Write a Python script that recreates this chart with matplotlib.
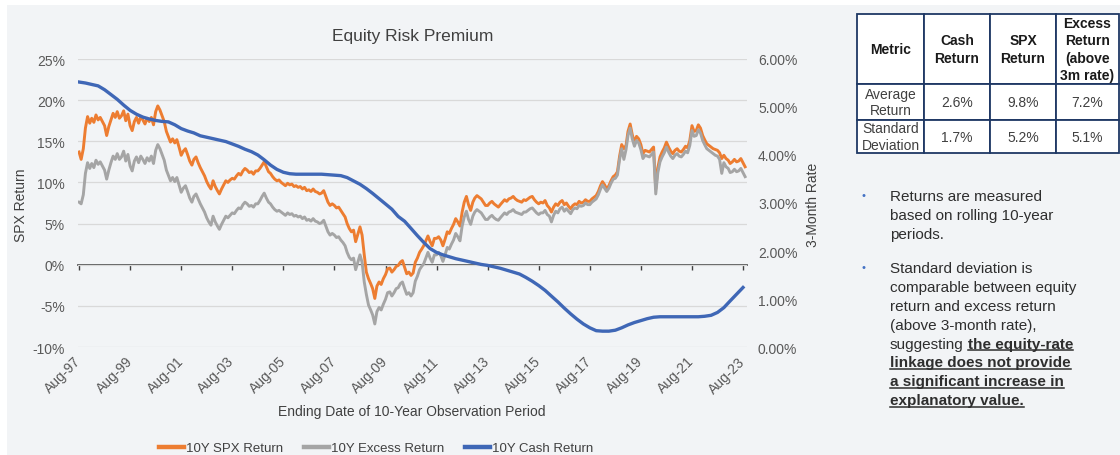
import matplotlib
matplotlib.use("Agg")
import matplotlib.pyplot as plt
import matplotlib.dates as mdates
import pandas as pd
from matplotlib.lines import Line2D
from matplotlib.patches import Rectangle
from matplotlib.ticker import FuncFormatter

plt.rcParams["font.family"] = ["Liberation Sans", "DejaVu Sans"]

W, H, DPI = 1120, 456, 100

# ---------------- data (monthly, Aug-97 .. Sep-23) ----------------
spx_return = [
    13.7, 12.8, 14.1, 16.6, 18.0, 17.2, 17.8, 17.3, 18.2, 17.6, 17.9, 17.4,
    16.9, 15.7, 16.8, 17.6, 18.4, 17.9, 18.6, 17.8, 18.1, 18.7, 17.5, 18.3,
    16.9, 16.3, 17.4, 17.9, 17.2, 18.0, 17.6, 17.1, 17.8, 17.4, 17.9, 17.0,
    18.6, 19.3, 18.8, 18.1, 17.4, 16.2, 15.6, 14.9, 15.3, 14.8, 15.2, 14.3,
    13.3, 13.8, 14.1, 13.4, 12.6, 12.1, 12.8, 13.1, 12.4, 11.8, 11.3, 10.8,
    10.1, 9.6, 9.2, 10.2, 9.5, 9.0, 8.6, 9.2, 9.7, 10.2, 10.0, 10.3,
    10.5, 10.4, 10.8, 11.1, 10.9, 11.4, 11.7, 11.5, 11.2, 11.3, 11.0, 11.4,
    11.4, 11.7, 12.1, 12.5, 11.9, 11.3, 11.1, 10.7, 10.4, 10.2, 10.3, 10.0,
    9.8, 9.6, 9.9, 9.7, 9.8, 9.5, 9.6, 9.4, 9.5, 9.2, 9.4, 9.0,
    9.1, 8.9, 9.2, 8.9, 8.8, 8.6, 8.7, 9.0, 8.3, 7.6, 7.2, 7.4,
    7.2, 6.9, 7.0, 6.6, 6.2, 5.8, 5.0, 4.4, 4.0, 4.2, 2.8, 3.7,
    4.6, 3.6, 1.2, -0.9, -1.7, -2.3, -2.9, -4.1, -2.6, -2.1, -2.4, -1.7,
    -1.2, -0.5, -0.4, -0.9, -0.6, -0.2, -0.1, 0.3, 0.5, -0.3, -1.1, -0.9,
    -1.3, -1.0, 0.3, 0.8, 1.5, 1.9, 2.3, 2.9, 3.5, 2.8, 2.3, 3.2,
    3.2, 3.4, 3.0, 2.3, 3.1, 4.0, 3.8, 4.4, 4.9, 5.6, 5.2, 4.7,
    6.4, 7.6, 8.3, 7.3, 6.6, 7.6, 8.1, 8.4, 8.2, 8.0, 7.6, 7.2,
    7.2, 7.5, 7.7, 7.4, 7.2, 7.0, 7.3, 7.6, 7.9, 7.7, 8.0, 8.1,
    8.3, 8.0, 7.8, 7.7, 7.6, 7.9, 7.8, 8.0, 8.2, 8.3, 7.9, 7.6,
    7.4, 7.6, 7.5, 7.8, 7.2, 6.9, 6.4, 7.0, 7.4, 7.2, 7.6, 7.8,
    7.3, 7.5, 7.1, 6.8, 7.2, 7.4, 7.3, 7.7, 7.5, 7.6, 7.9, 7.7,
    7.7, 8.0, 8.2, 8.4, 8.9, 9.6, 10.1, 9.7, 9.2, 9.6, 10.2, 10.7,
    10.9, 11.3, 13.2, 14.6, 14.1, 14.5, 16.2, 17.1, 15.8, 14.9, 15.6, 15.3,
    14.6, 13.5, 13.9, 13.8, 13.7, 14.0, 14.3, 9.2, 11.8, 13.1, 13.7, 14.2,
    14.9, 14.3, 13.8, 13.5, 13.9, 14.1, 13.8, 13.7, 14.0, 14.4, 14.2, 15.1,
    16.9, 16.2, 16.3, 17.0, 16.6, 15.7, 15.2, 14.7, 14.5, 14.3, 14.1, 14.0,
    13.9, 13.6, 12.9, 13.3, 12.9, 12.7, 12.3, 12.5, 12.8, 12.5, 12.6, 12.9,
    12.4, 11.9,
]

excess_return = [
    7.6, 7.4, 8.5, 11.1, 12.4, 11.7, 12.3, 11.8, 12.7, 12.2, 12.5, 12.0,
    11.5, 10.4, 11.5, 12.4, 13.2, 12.8, 13.5, 12.8, 13.1, 13.8, 12.6, 13.4,
    12.0, 11.4, 12.6, 13.1, 12.4, 13.2, 12.8, 12.3, 13.0, 12.6, 13.2, 12.3,
    13.9, 14.6, 14.1, 13.4, 12.7, 11.5, 10.9, 10.2, 10.6, 10.1, 10.6, 9.7,
    8.8, 9.3, 9.6, 8.9, 8.1, 7.6, 8.3, 8.6, 8.0, 7.4, 6.9, 6.4,
    5.7, 5.2, 4.8, 5.9, 5.2, 4.7, 4.3, 4.9, 5.4, 5.9, 5.7, 6.0,
    6.3, 6.2, 6.6, 6.9, 6.8, 7.3, 7.6, 7.4, 7.1, 7.2, 7.0, 7.4,
    7.4, 7.8, 8.3, 8.7, 8.1, 7.6, 7.4, 7.0, 6.7, 6.5, 6.6, 6.4,
    6.2, 6.0, 6.3, 6.1, 6.2, 5.9, 6.0, 5.8, 5.9, 5.6, 5.8, 5.4,
    5.5, 5.3, 5.6, 5.3, 5.2, 5.0, 5.1, 5.4, 4.7, 4.0, 3.6, 3.8,
    3.6, 3.3, 3.4, 3.0, 2.7, 2.3, 1.5, 0.9, 0.6, 0.8, -0.6, 0.3,
    1.2, 0.3, -2.1, -3.6, -4.9, -5.5, -6.1, -7.2, -5.7, -5.2, -5.5, -4.8,
    -4.2, -3.4, -3.3, -3.8, -3.4, -2.9, -2.8, -2.3, -2.1, -2.9, -3.6, -3.4,
    -3.8, -3.4, -2.0, -1.4, -0.6, -0.2, 0.1, 0.8, 1.5, 0.8, 0.3, 1.2,
    1.2, 1.5, 1.1, 0.4, 1.2, 2.1, 1.9, 2.5, 3.0, 3.8, 3.4, 2.9,
    4.7, 5.8, 6.5, 5.5, 4.9, 5.9, 6.4, 6.7, 6.5, 6.3, 5.9, 5.5,
    5.5, 5.8, 6.0, 5.7, 5.5, 5.4, 5.7, 6.0, 6.3, 6.1, 6.4, 6.5,
    6.7, 6.4, 6.3, 6.2, 6.1, 6.4, 6.4, 6.6, 6.8, 6.9, 6.6, 6.3,
    6.1, 6.3, 6.3, 6.6, 6.1, 5.9, 5.2, 6.0, 6.5, 6.3, 6.8, 7.0,
    6.5, 6.8, 6.5, 6.2, 6.7, 6.9, 6.8, 7.2, 7.1, 7.2, 7.5, 7.3,
    7.3, 7.6, 7.8, 8.0, 8.5, 9.2, 9.7, 9.3, 8.9, 9.3, 9.9, 10.4,
    10.5, 10.9, 12.8, 14.1, 12.8, 14.0, 15.7, 16.6, 15.3, 14.4, 15.1, 14.8,
    14.0, 12.9, 13.3, 13.2, 13.1, 13.4, 13.7, 8.6, 11.2, 12.5, 13.1, 13.6,
    14.3, 13.7, 13.2, 12.9, 13.3, 13.5, 13.2, 13.1, 13.4, 13.8, 13.6, 14.5,
    16.3, 15.6, 15.7, 16.4, 16.0, 15.1, 14.6, 14.1, 13.9, 13.7, 13.5, 13.3,
    13.2, 12.8, 11.1, 12.4, 11.9, 11.7, 11.2, 11.3, 11.6, 11.3, 11.4, 11.7,
    11.2, 10.7,
]

# quarterly 10Y average 3-month rate (right axis)
cash_return = [
    5.52, 5.50, 5.47, 5.44, 5.36, 5.26, 5.16, 5.04, 4.93, 4.85, 4.79, 4.75,
    4.72, 4.70, 4.69, 4.63, 4.55, 4.50, 4.46, 4.40, 4.37, 4.34, 4.31, 4.28,
    4.23, 4.18, 4.12, 4.07, 4.00, 3.90, 3.79, 3.70, 3.64, 3.61, 3.60, 3.60,
    3.60, 3.60, 3.60, 3.59, 3.58, 3.57, 3.53, 3.46, 3.39, 3.30, 3.20, 3.09,
    2.98, 2.87, 2.72, 2.62, 2.47, 2.32, 2.18, 2.05, 1.97, 1.92, 1.88, 1.84,
    1.81, 1.78, 1.75, 1.72, 1.70, 1.67, 1.64, 1.60, 1.56, 1.52, 1.45, 1.37,
    1.28, 1.18, 1.06, 0.94, 0.81, 0.69, 0.58, 0.48, 0.40, 0.34, 0.33, 0.33,
    0.35, 0.40, 0.46, 0.51, 0.55, 0.59, 0.62, 0.63, 0.63, 0.63, 0.63, 0.63,
    0.63, 0.63, 0.64, 0.66, 0.72, 0.82, 0.96, 1.10, 1.24,
]

series_labels = ["10Y SPX Return", "10Y Excess Return", "10Y Cash Return"]

# summary table
table_header = ["Metric", "Cash\nReturn", "SPX\nReturn", "Excess\nReturn\n(above\n3m rate)"]
table_rows = ["Average\nReturn", "Standard\nDeviation"]
cash_stats = ["2.6%", "1.7%"]
spx_stats = ["9.8%", "5.2%"]
excess_stats = ["7.2%", "5.1%"]

# notes: each line is a list of (text, emphasised)
notes = [
    [
        [("Returns are measured", False)],
        [("based on rolling 10-year", False)],
        [("periods.", False)],
    ],
    [
        [("Standard deviation is", False)],
        [("comparable between equity", False)],
        [("return and excess return", False)],
        [("(above 3-month rate),", False)],
        [("suggesting", False), ("the equity-rate", True)],
        [("linkage does not provide", True)],
        [("a significant increase in", True)],
        [("explanatory value.", True)],
    ],
]

# ---------------- styling ----------------
ORANGE = "#ED7D31"
GREY = "#A5A5A5"
BLUE = "#3F67B6"
TEXT = "#595959"
DARK = "#404040"
NOTE = "#2E2E2E"
PANEL = "#F2F4F6"
NAVY = "#1F3864"

month_dates = pd.date_range("1997-08-31", periods=len(spx_return), freq="ME")
cash_dates = pd.date_range("1997-08-31", periods=len(cash_return), freq="3ME")
tick_dates = pd.date_range("1997-08-31", "2023-08-31", freq="24ME")

fig = plt.figure(figsize=(W / DPI, H / DPI), dpi=DPI, facecolor="white")
fig.add_artist(Rectangle((7 / W, 0), (W - 7) / W, (H - 6) / H,
                         transform=fig.transFigure, facecolor=PANEL,
                         edgecolor="none", zorder=-10))


def px_axes(left, top, right, bottom):
    return fig.add_axes([left / W, 1 - bottom / H, (right - left) / W, (bottom - top) / H])


def px(x, y):
    return x / W, 1 - y / H


ax = px_axes(78, 60, 747, 348)
ax.set_facecolor("none")
l1, = ax.plot(month_dates, spx_return, color=ORANGE, lw=2.1, label=series_labels[0])
l2, = ax.plot(month_dates, excess_return, color=GREY, lw=2.1, label=series_labels[1])
ax.set_ylim(-10, 25)
ax.set_yticks(range(-10, 26, 5))
ax.yaxis.set_major_formatter(FuncFormatter(lambda v, p: f"{v:.0f}%"))
ax.grid(axis="y", color="#D9D9D9", lw=0.9)
ax.set_axisbelow(True)
ax.set_xlim(pd.Timestamp("1997-08-16"), pd.Timestamp("2023-10-27"))
ax.set_xticks(tick_dates)
ax.xaxis.set_major_formatter(mdates.DateFormatter("%b-%y"))
ax.tick_params(axis="x", length=0, pad=8.5, labelsize=10, labelcolor=TEXT)
ax.tick_params(axis="y", length=0, pad=9.4, labelsize=10, labelcolor=TEXT)
plt.setp(ax.get_xticklabels(), rotation=45, ha="right", va="center",
         rotation_mode="anchor")
for s in ax.spines.values():
    s.set_visible(False)

# horizontal category axis line at 0% with its tick marks
zero_axis = ax.secondary_xaxis(10 / 35)
zero_axis.set_xticks(mdates.date2num(tick_dates))
zero_axis.tick_params(axis="x", direction="out", length=3.5, width=1.0,
                      color=DARK, labelbottom=False)
zero_axis.spines["bottom"].set_color(DARK)
zero_axis.spines["bottom"].set_linewidth(1.2)

tw = ax.twinx()
tw.set_facecolor("none")
l3, = tw.plot(cash_dates, cash_return, color=BLUE, lw=2.4, label=series_labels[2])
tw.set_ylim(0, 6)
tw.set_yticks(range(0, 7))
tw.yaxis.set_major_formatter(FuncFormatter(lambda v, p: f"{v:.2f}%"))
tw.tick_params(axis="y", length=0, pad=7.9, labelsize=10, labelcolor=TEXT)
for s in tw.spines.values():
    s.set_visible(False)

fig.text(*px(413, 36), "Equity Risk Premium", fontsize=12.5, color=DARK,
         ha="center", va="center")
fig.text(*px(21, 205), "SPX Return", fontsize=10, color=DARK, rotation=90,
         ha="center", va="center")
fig.text(*px(813, 205), "3-Month Rate", fontsize=10, color=DARK, rotation=90,
         ha="center", va="center")
fig.text(*px(412, 412), "Ending Date of 10-Year Observation Period", fontsize=10,
         color=DARK, ha="center", va="center")

leg = fig.legend(handles=[l1, l2, l3], loc="center", bbox_to_anchor=px(376, 449),
                 ncol=3, frameon=False, fontsize=9.5, handlelength=1.9,
                 handletextpad=0.15, columnspacing=1.6, borderaxespad=0)
for h in leg.legend_handles:
    h.set_linewidth(3.2)
for t in leg.get_texts():
    t.set_color(DARK)

# ---------------- table ----------------
tax = px_axes(857, 15, 1119, 154)
tax.axis("off")
cell_text = [[table_rows[i], cash_stats[i], spx_stats[i], excess_stats[i]]
             for i in range(len(table_rows))]
tbl = tax.table(cellText=cell_text, colLabels=table_header, cellLoc="center",
                bbox=[0, 0, 1, 1])
tbl.auto_set_font_size(False)
col_w = [67, 66, 66, 63]
row_h = [70, 36, 33]
for (r, c), cell in tbl.get_celld().items():
    cell.set_width(col_w[c])
    cell.set_height(row_h[r])
    cell.set_edgecolor(NAVY)
    cell.set_linewidth(1.3)
    cell.set_facecolor("white")
    txt = cell.get_text()
    txt.set_fontsize(10)
    if r == 0:
        txt.set_fontweight("bold")
        txt.set_color("#1A1A1A")
        txt.set_linespacing(1.3)
    else:
        txt.set_color(DARK)
        txt.set_linespacing(1.2)

# ---------------- notes ----------------
renderer = fig.canvas.get_renderer()
note_top = [196, 268]
line_step = 18.9
for para, y0 in zip(notes, note_top):
    fig.text(*px(863, y0), "\u2022", color="#4472C4", fontsize=8,
             ha="center", va="center")
    for li, pieces in enumerate(para):
        y = y0 + li * line_step
        x = 890
        for text, strong in pieces:
            t = fig.text(*px(x, y + 5), text, fontsize=11, color=NOTE,
                         fontweight="bold" if strong else "normal",
                         ha="left", va="baseline")
            bb = t.get_window_extent(renderer=renderer)
            if strong:
                yu = y + 7.5
                fig.add_artist(Line2D([bb.x0 / W, bb.x1 / W], [1 - yu / H] * 2,
                                      transform=fig.transFigure, color=NOTE, lw=1.1))
            x = bb.x1 + 4.3

fig.savefig("out.png", dpi=DPI)
